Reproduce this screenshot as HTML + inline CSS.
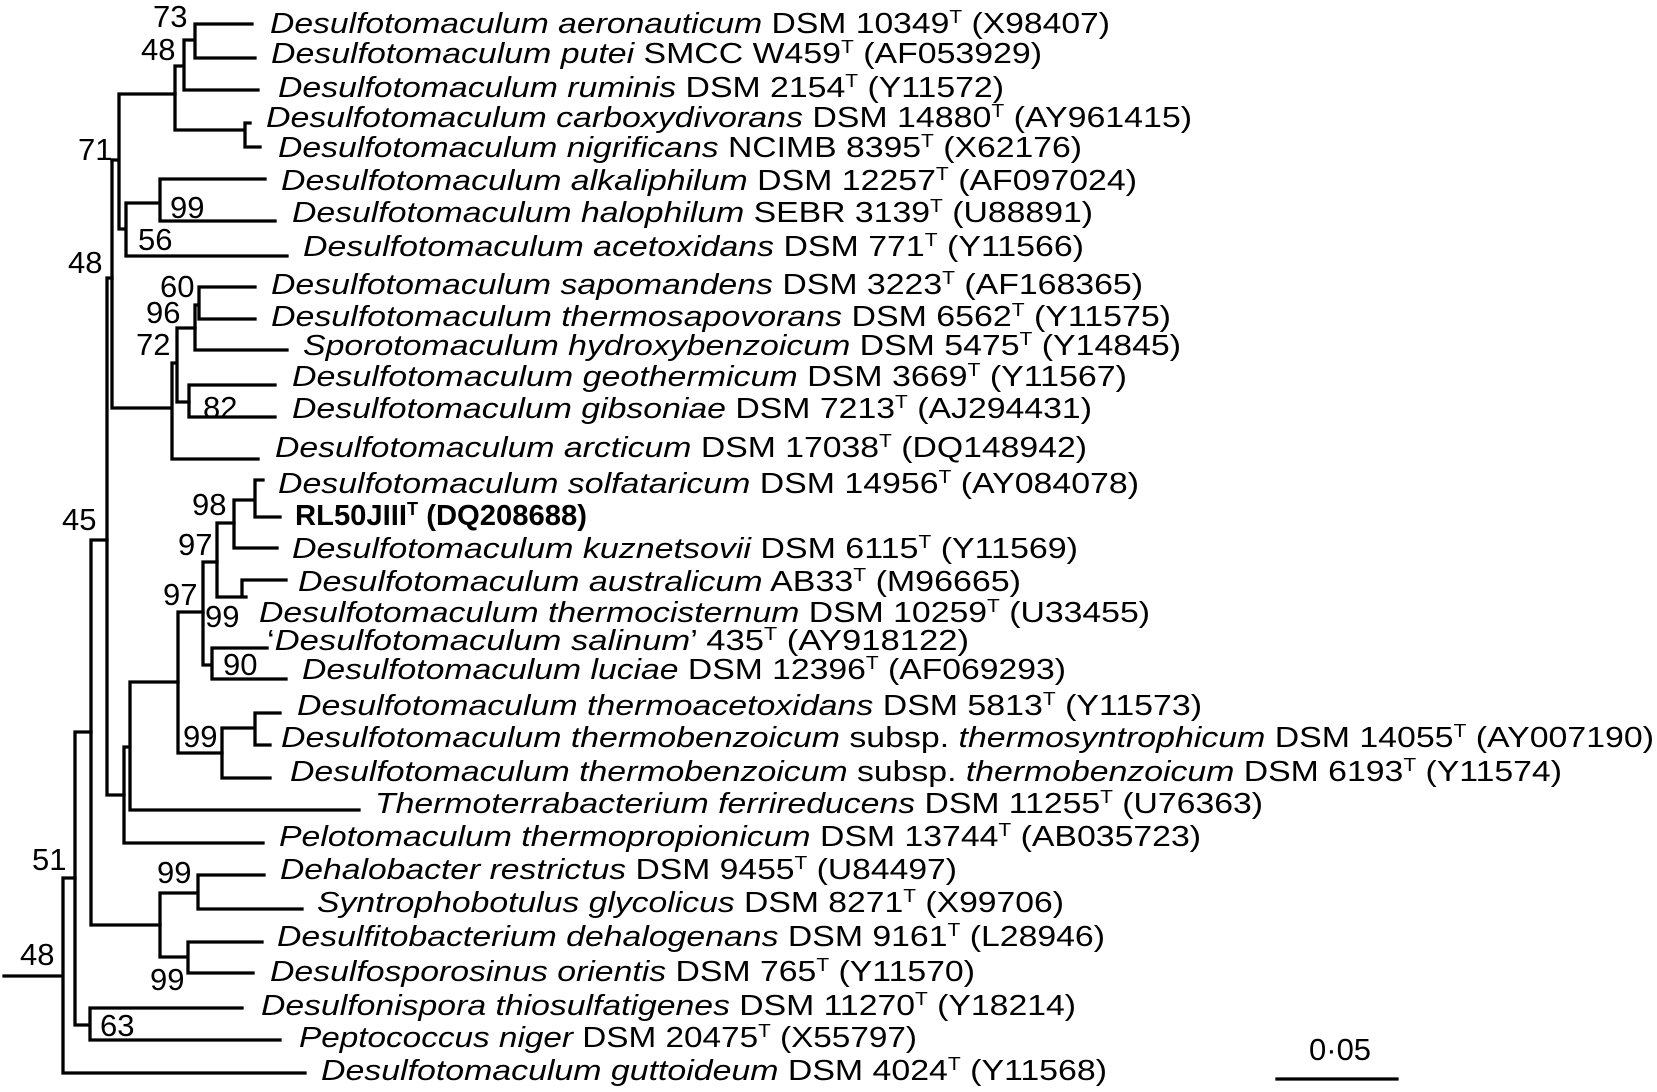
<!DOCTYPE html>
<html><head><meta charset="utf-8"><style>
html,body{margin:0;padding:0;background:#fff;}
svg{display:block;}
text{font-family:"Liberation Sans",Arial,sans-serif;fill:#000;}
.l{font-size:29px;}
.b{font-size:31px;}
</style></head><body>
<svg width="1657" height="1092" viewBox="0 0 1657 1092" xmlns="http://www.w3.org/2000/svg">
<g stroke="#000" stroke-width="3.3" fill="none" stroke-linecap="square">
<path d="M4 976H63 M63 878V1073 M63 878H75 M63 1073H305"/>
<path d="M75 732V1025 M75 732H91 M75 1025H90 M90 1008V1040 M90 1008H242 M90 1040H280"/>
<path d="M91 540V925 M91 540H107 M91 925H160"/>
<path d="M160 893V957 M160 893H198 M198 875V909 M198 875H264 M198 909H302 M160 957H188 M188 942V973 M188 942H262 M188 973H253"/>
<path d="M107 278V795 M107 278H112 M107 795H124"/>
<path d="M124 747V843 M124 843H263 M124 747H130 M130 682V810 M130 810H359 M130 682H178"/>
<path d="M178 612V753 M178 612H203 M178 753H222"/>
<path d="M222 728V778 M222 728H255 M222 778H270 M255 713V745 M255 713H280 M255 745H270"/>
<path d="M203 562V665 M203 562H217 M203 665H212 M212 648V679 M212 648H267 M212 679H286"/>
<path d="M217 523V597 M217 523H234 M217 597H242 M242 580V597 M242 580H286 M242 597H246"/>
<path d="M234 500V548 M234 548H277 M234 500H255 M255 480V517 M255 480H263 M255 517H280"/>
<path d="M112 160V408 M112 408H172 M172 363V459 M172 459H258 M172 363H177 M177 328V402 M177 328H195 M177 402H189"/>
<path d="M189 385V417 M189 385H275 M189 417H275 M195 305V350 M195 350H287 M195 305H199 M199 287V319 M199 287H255 M199 319H255"/>
<path d="M112 160H119 M119 94V229 M119 94H175 M119 229H126 M126 203V256 M126 256H287 M126 203H160 M160 179V221 M160 179H265 M160 221H275"/>
<path d="M175 66V130 M175 66H184 M175 130H245 M245 123V147 M245 123H250 M245 147H260 M184 40V90 M184 90H258 M184 40H195 M195 24V58 M195 24H252 M195 58H255"/>
<path d="M1277 1079H1397"/>
</g>
<g class="b">
<text x="153" y="27">73</text>
<text x="141" y="60">48</text>
<text x="78" y="160">71</text>
<text x="170" y="218">99</text>
<text x="138" y="250">56</text>
<text x="68" y="273">48</text>
<text x="160" y="297">60</text>
<text x="146" y="323">96</text>
<text x="136" y="355">72</text>
<text x="203" y="418">82</text>
<text x="192" y="515">98</text>
<text x="178" y="555">97</text>
<text x="163" y="605">97</text>
<text x="205" y="627">99</text>
<text x="223" y="675">90</text>
<text x="183" y="747">99</text>
<text x="62" y="530">45</text>
<text x="32" y="870">51</text>
<text x="157" y="883">99</text>
<text x="150" y="990">99</text>
<text x="20" y="965">48</text>
<text x="100" y="1036">63</text>
<text x="1309" y="1060">0·05</text>
</g>
<g class="l">
<text x="270" y="33" textLength="840" lengthAdjust="spacingAndGlyphs"><tspan font-style="italic">Desulfotomaculum aeronauticum</tspan> DSM 10349<tspan dy="-10" font-size="18">T</tspan><tspan dy="10"> (X98407)</tspan></text>
<text x="271" y="63" textLength="771" lengthAdjust="spacingAndGlyphs"><tspan font-style="italic">Desulfotomaculum putei</tspan> SMCC W459<tspan dy="-10" font-size="18">T</tspan><tspan dy="10"> (AF053929)</tspan></text>
<text x="278" y="97" textLength="726" lengthAdjust="spacingAndGlyphs"><tspan font-style="italic">Desulfotomaculum ruminis</tspan> DSM 2154<tspan dy="-10" font-size="18">T</tspan><tspan dy="10"> (Y11572)</tspan></text>
<text x="266" y="127" textLength="926" lengthAdjust="spacingAndGlyphs"><tspan font-style="italic">Desulfotomaculum carboxydivorans</tspan> DSM 14880<tspan dy="-10" font-size="18">T</tspan><tspan dy="10"> (AY961415)</tspan></text>
<text x="278" y="157" textLength="804" lengthAdjust="spacingAndGlyphs"><tspan font-style="italic">Desulfotomaculum nigrificans</tspan> NCIMB 8395<tspan dy="-10" font-size="18">T</tspan><tspan dy="10"> (X62176)</tspan></text>
<text x="281" y="190" textLength="856" lengthAdjust="spacingAndGlyphs"><tspan font-style="italic">Desulfotomaculum alkaliphilum</tspan> DSM 12257<tspan dy="-10" font-size="18">T</tspan><tspan dy="10"> (AF097024)</tspan></text>
<text x="292" y="222" textLength="801" lengthAdjust="spacingAndGlyphs"><tspan font-style="italic">Desulfotomaculum halophilum</tspan> SEBR 3139<tspan dy="-10" font-size="18">T</tspan><tspan dy="10"> (U88891)</tspan></text>
<text x="303" y="256" textLength="781" lengthAdjust="spacingAndGlyphs"><tspan font-style="italic">Desulfotomaculum acetoxidans</tspan> DSM 771<tspan dy="-10" font-size="18">T</tspan><tspan dy="10"> (Y11566)</tspan></text>
<text x="271" y="294" textLength="872" lengthAdjust="spacingAndGlyphs"><tspan font-style="italic">Desulfotomaculum sapomandens</tspan> DSM 3223<tspan dy="-10" font-size="18">T</tspan><tspan dy="10"> (AF168365)</tspan></text>
<text x="271" y="326" textLength="900" lengthAdjust="spacingAndGlyphs"><tspan font-style="italic">Desulfotomaculum thermosapovorans</tspan> DSM 6562<tspan dy="-10" font-size="18">T</tspan><tspan dy="10"> (Y11575)</tspan></text>
<text x="303" y="355" textLength="878" lengthAdjust="spacingAndGlyphs"><tspan font-style="italic">Sporotomaculum hydroxybenzoicum</tspan> DSM 5475<tspan dy="-10" font-size="18">T</tspan><tspan dy="10"> (Y14845)</tspan></text>
<text x="292" y="386" textLength="835" lengthAdjust="spacingAndGlyphs"><tspan font-style="italic">Desulfotomaculum geothermicum</tspan> DSM 3669<tspan dy="-10" font-size="18">T</tspan><tspan dy="10"> (Y11567)</tspan></text>
<text x="292" y="418" textLength="800" lengthAdjust="spacingAndGlyphs"><tspan font-style="italic">Desulfotomaculum gibsoniae</tspan> DSM 7213<tspan dy="-10" font-size="18">T</tspan><tspan dy="10"> (AJ294431)</tspan></text>
<text x="275" y="457" textLength="812" lengthAdjust="spacingAndGlyphs"><tspan font-style="italic">Desulfotomaculum arcticum</tspan> DSM 17038<tspan dy="-10" font-size="18">T</tspan><tspan dy="10"> (DQ148942)</tspan></text>
<text x="278" y="493" textLength="861" lengthAdjust="spacingAndGlyphs"><tspan font-style="italic">Desulfotomaculum solfataricum</tspan> DSM 14956<tspan dy="-10" font-size="18">T</tspan><tspan dy="10"> (AY084078)</tspan></text>
<text x="295" y="525" textLength="292" lengthAdjust="spacingAndGlyphs" font-weight="bold">RL50JIII<tspan dy="-10" font-size="18">T</tspan><tspan dy="10"> (DQ208688)</tspan></text>
<text x="292" y="558" textLength="786" lengthAdjust="spacingAndGlyphs"><tspan font-style="italic">Desulfotomaculum kuznetsovii</tspan> DSM 6115<tspan dy="-10" font-size="18">T</tspan><tspan dy="10"> (Y11569)</tspan></text>
<text x="298" y="591" textLength="723" lengthAdjust="spacingAndGlyphs"><tspan font-style="italic">Desulfotomaculum australicum</tspan> AB33<tspan dy="-10" font-size="18">T</tspan><tspan dy="10"> (M96665)</tspan></text>
<text x="259" y="622" textLength="891" lengthAdjust="spacingAndGlyphs"><tspan font-style="italic">Desulfotomaculum thermocisternum</tspan> DSM 10259<tspan dy="-10" font-size="18">T</tspan><tspan dy="10"> (U33455)</tspan></text>
<text x="267" y="650" textLength="702" lengthAdjust="spacingAndGlyphs">‘<tspan font-style="italic">Desulfotomaculum salinum</tspan>’ 435<tspan dy="-10" font-size="18">T</tspan><tspan dy="10"> (AY918122)</tspan></text>
<text x="302" y="679" textLength="764" lengthAdjust="spacingAndGlyphs"><tspan font-style="italic">Desulfotomaculum luciae</tspan> DSM 12396<tspan dy="-10" font-size="18">T</tspan><tspan dy="10"> (AF069293)</tspan></text>
<text x="297" y="715" textLength="905" lengthAdjust="spacingAndGlyphs"><tspan font-style="italic">Desulfotomaculum thermoacetoxidans</tspan> DSM 5813<tspan dy="-10" font-size="18">T</tspan><tspan dy="10"> (Y11573)</tspan></text>
<text x="281" y="747" textLength="1373" lengthAdjust="spacingAndGlyphs"><tspan font-style="italic">Desulfotomaculum thermobenzoicum</tspan> subsp. <tspan font-style="italic">thermosyntrophicum</tspan> DSM 14055<tspan dy="-10" font-size="18">T</tspan><tspan dy="10"> (AY007190)</tspan></text>
<text x="290" y="781" textLength="1272" lengthAdjust="spacingAndGlyphs"><tspan font-style="italic">Desulfotomaculum thermobenzoicum</tspan> subsp. <tspan font-style="italic">thermobenzoicum</tspan> DSM 6193<tspan dy="-10" font-size="18">T</tspan><tspan dy="10"> (Y11574)</tspan></text>
<text x="375" y="813" textLength="888" lengthAdjust="spacingAndGlyphs"><tspan font-style="italic">Thermoterrabacterium ferrireducens</tspan> DSM 11255<tspan dy="-10" font-size="18">T</tspan><tspan dy="10"> (U76363)</tspan></text>
<text x="279" y="846" textLength="922" lengthAdjust="spacingAndGlyphs"><tspan font-style="italic">Pelotomaculum thermopropionicum</tspan> DSM 13744<tspan dy="-10" font-size="18">T</tspan><tspan dy="10"> (AB035723)</tspan></text>
<text x="280" y="879" textLength="677" lengthAdjust="spacingAndGlyphs"><tspan font-style="italic">Dehalobacter restrictus</tspan> DSM 9455<tspan dy="-10" font-size="18">T</tspan><tspan dy="10"> (U84497)</tspan></text>
<text x="317" y="912" textLength="747" lengthAdjust="spacingAndGlyphs"><tspan font-style="italic">Syntrophobotulus glycolicus</tspan> DSM 8271<tspan dy="-10" font-size="18">T</tspan><tspan dy="10"> (X99706)</tspan></text>
<text x="277" y="946" textLength="828" lengthAdjust="spacingAndGlyphs"><tspan font-style="italic">Desulfitobacterium dehalogenans</tspan> DSM 9161<tspan dy="-10" font-size="18">T</tspan><tspan dy="10"> (L28946)</tspan></text>
<text x="270" y="981" textLength="705" lengthAdjust="spacingAndGlyphs"><tspan font-style="italic">Desulfosporosinus orientis</tspan> DSM 765<tspan dy="-10" font-size="18">T</tspan><tspan dy="10"> (Y11570)</tspan></text>
<text x="261" y="1015" textLength="815" lengthAdjust="spacingAndGlyphs"><tspan font-style="italic">Desulfonispora thiosulfatigenes</tspan> DSM 11270<tspan dy="-10" font-size="18">T</tspan><tspan dy="10"> (Y18214)</tspan></text>
<text x="299" y="1047" textLength="618" lengthAdjust="spacingAndGlyphs"><tspan font-style="italic">Peptococcus niger</tspan> DSM 20475<tspan dy="-10" font-size="18">T</tspan><tspan dy="10"> (X55797)</tspan></text>
<text x="321" y="1080" textLength="786" lengthAdjust="spacingAndGlyphs"><tspan font-style="italic">Desulfotomaculum guttoideum</tspan> DSM 4024<tspan dy="-10" font-size="18">T</tspan><tspan dy="10"> (Y11568)</tspan></text>
</g>
</svg>
</body></html>
